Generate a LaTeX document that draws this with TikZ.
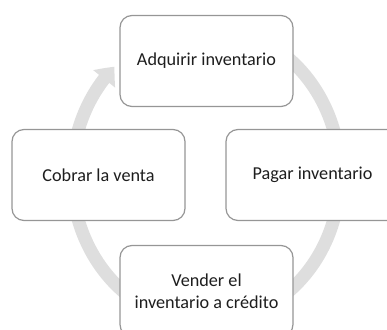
\documentclass[tikz,border=0pt]{standalone}
\usepackage{fontspec}
\setmainfont{Carlito}
\usetikzlibrary{arrows.meta,bending}
\definecolor{ringgray}{RGB}{222,222,222}
\definecolor{boxgray}{RGB}{150,150,150}
\definecolor{txt}{RGB}{30,30,30}
\begin{document}
\begin{tikzpicture}[x=1pt,y=1pt,
  stagebox/.style={draw=boxgray,line width=1.2pt,fill=white,rounded corners=12pt,
    minimum width=173pt,minimum height=91pt,inner sep=0pt,align=center,
    text=txt,font=\fontsize{18.2}{22}\selectfont},
  ring/.style={draw=ringgray,line width=13pt}]
\useasboundingbox (0,0) rectangle (387,329);
\clip (0,0) rectangle (387,329);
\coordinate (c) at (206,154);
\draw[ring,-{Triangle[width=27pt,length=16pt,bend]}]
  ([shift={(80:134pt and 148pt)}]c) arc[start angle=80,end angle=-227,x radius=134pt,y radius=148pt];
\node[stagebox] (top) at (206.5,268) {Adquirir inventario};
\node[stagebox] (left) at (98.5,154) {Cobrar la venta};
\node[stagebox] (right) at (312.5,154) {Pagar inventario};
\node[stagebox] (bottom) at (206.5,38) {Vender el\\inventario a crédito};
\end{tikzpicture}
\end{document}
